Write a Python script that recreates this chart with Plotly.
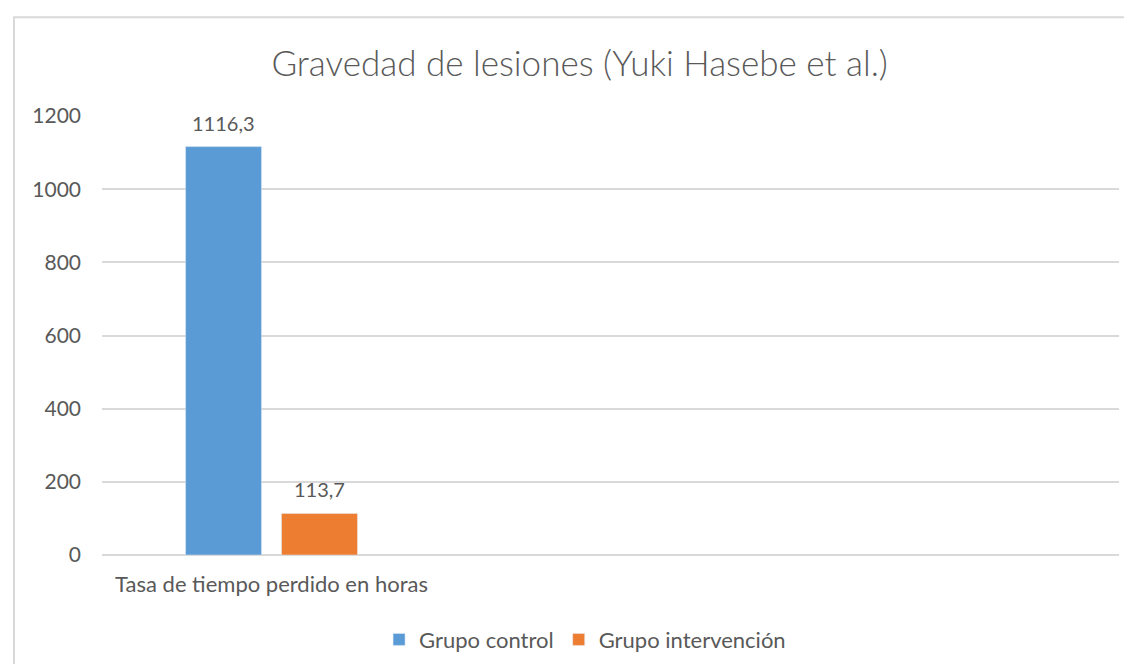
import plotly.graph_objects as go

categorias = ["Tasa de tiempo perdido en horas", " ", "  "]
grupo_control = [1116.3, None, None]
grupo_intervencion = [113.7, None, None]
nombres = ["Grupo control", "Grupo intervención"]
colores = ["#5B9BD5", "#ED7D31"]

fuente = "Lato, Carlito, Calibri, sans-serif"
gris = "#595959"

fig = go.Figure()
series = [grupo_control, grupo_intervencion]
for nombre, valores, color in zip(nombres, series, colores):
    fig.add_trace(go.Bar(name=nombre, x=categorias, y=valores, marker_color=color))

# etiquetas de datos (coma decimal), desplazadas sobre cada barra
desplazamiento = [-48, 48]
for valores, dx in zip(series, desplazamiento):
    for cat, v in zip(categorias, valores):
        if v is None:
            continue
        fig.add_annotation(x=cat, y=v, text=f"{v:.1f}".replace(".", ","), showarrow=False,
                           xshift=dx, yshift=24, yanchor="middle",
                           font=dict(size=20, color=gris, family=fuente))

fig.update_layout(
    width=1132, height=664,
    paper_bgcolor="white", plot_bgcolor="white",
    margin=dict(l=94, r=21, t=108, b=116),
    font=dict(family=fuente, color=gris, size=20),
    title=dict(text="Gravedad de lesiones (Yuki Hasebe et al.)", x=0.505, xanchor="center",
               y=1 - 56 / 664, yanchor="middle",
               font=dict(size=35, color=gris, family=fuente, weight=300)),
    barmode="group", bargap=0.434, bargroupgap=0.208,
    showlegend=True,
    legend=dict(orientation="h", x=0.475, xanchor="center", y=-0.19, yanchor="middle",
                font=dict(size=22, color=gris), itemwidth=30, traceorder="normal"),
    xaxis=dict(showgrid=False, showline=False, ticks="", ticklabelstandoff=14,
               tickfont=dict(size=22, color=gris)),
    yaxis=dict(range=[0, 1200], dtick=200, showgrid=True, gridcolor="#D9D9D9", gridwidth=1.5,
               zeroline=True, zerolinecolor="#D9D9D9", zerolinewidth=1.5,
               ticks="", ticklabelstandoff=20, tickfont=dict(size=21, color=gris)),
)

# marco del gráfico
fig.add_shape(type="rect", xref="paper", yref="paper",
              x0=(6 - 94) / 1017, x1=1.2, y0=-0.4, y1=(548 - 9) / 440,
              line=dict(color="#D9D9D9", width=2), layer="below")

fig.write_html("out.html")
